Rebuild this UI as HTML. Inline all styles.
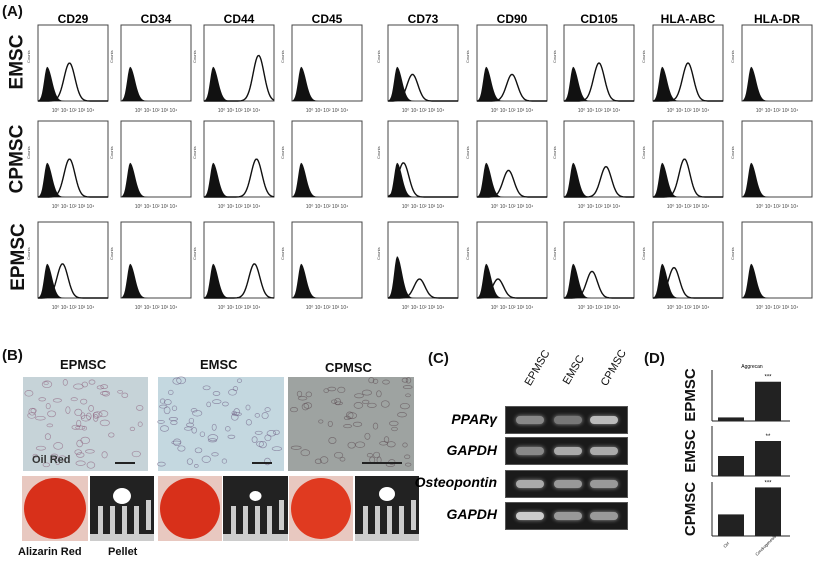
<!DOCTYPE html>
<html><head><meta charset="utf-8">
<style>
body{margin:0;background:#fff;}
#c{position:relative;width:819px;height:561px;overflow:hidden;font-family:"Liberation Sans",sans-serif;}
.t{position:absolute;font-weight:bold;color:#111;white-space:nowrap;}
.r{position:absolute;font-weight:bold;font-size:19px;transform:rotate(-90deg);transform-origin:center;white-space:nowrap;color:#111;}
.rd{position:absolute;font-weight:bold;font-size:15px;width:80px;height:18px;line-height:18px;text-align:center;transform:rotate(-90deg);white-space:nowrap;color:#111;}
.gel{position:absolute;left:505px;width:121px;height:26px;background:#1a1a1a;border:1px solid #555;}
.band{position:absolute;top:9px;height:8px;width:28px;border-radius:4px;background:#aaa;box-shadow:0 0 4px #999;}
.gl{position:absolute;right:322px;font-weight:bold;font-style:italic;font-size:14px;}
</style></head><body>
<div id="c">
<div style="position:absolute;left:23px;top:377px;width:125px;height:94px;background:#c6d3d8"></div>
<div style="position:absolute;left:158px;top:377px;width:126px;height:94px;background:#c4d8e0"></div>
<div style="position:absolute;left:288px;top:377px;width:126px;height:94px;background:#9ea3a1"></div>
<svg id="s" width="819" height="561" style="position:absolute;left:0;top:0"></svg>
<div class="t" style="left:2px;top:3px;font-size:15px">(A)</div>
<div class="t" style="left:2px;top:347px;font-size:15px">(B)</div>
<div class="t" style="left:428px;top:350px;font-size:15px">(C)</div>
<div class="t" style="left:644px;top:350px;font-size:15px">(D)</div>

<div class="r" style="left:-10px;top:51px">EMSC</div>
<div class="r" style="left:-17px;top:148px">CPMSC</div>
<div class="r" style="left:-15px;top:246px">EPMSC</div>

<div class="t" style="left:60px;top:357px;font-size:13px">EPMSC</div>
<div class="t" style="left:200px;top:357px;font-size:13px">EMSC</div>
<div class="t" style="left:325px;top:360px;font-size:13px">CPMSC</div>
<div class="t" style="left:32px;top:454px;font-size:11px;color:#333">Oil Red</div>
<div style="position:absolute;left:115px;top:462px;width:20px;height:2px;background:#222"></div>
<div style="position:absolute;left:252px;top:462px;width:20px;height:2px;background:#222"></div>
<div style="position:absolute;left:362px;top:462px;width:40px;height:2px;background:#222"></div>
<div style="position:absolute;left:22px;top:476px;width:66px;height:65px;background:#e8c8c0"><div style="margin:2px;width:62px;height:61px;border-radius:50%;background:#d8301a"></div></div>
<div style="position:absolute;left:158px;top:476px;width:64px;height:65px;background:#e8c8c0"><div style="margin:2px;width:60px;height:61px;border-radius:50%;background:#d8301a"></div></div>
<div style="position:absolute;left:289px;top:476px;width:64px;height:65px;background:#e8c8c0"><div style="margin:2px;width:60px;height:61px;border-radius:50%;background:#e03a20"></div></div>
<div class="t" style="left:18px;top:546px;font-size:11px">Alizarin Red</div>
<div class="t" style="left:108px;top:546px;font-size:11px">Pellet</div>

<div class="t" style="left:518px;top:362px;font-size:11px;transform:rotate(-60deg);font-weight:normal">EPMSC</div>
<div class="t" style="left:558px;top:364px;font-size:11px;transform:rotate(-60deg);font-weight:normal">EMSC</div>
<div class="t" style="left:594px;top:362px;font-size:11px;transform:rotate(-60deg);font-weight:normal">CPMSC</div>
<div class="gl" style="top:411px">PPARγ</div>
<div class="gl" style="top:442px">GAPDH</div>
<div class="gl" style="top:474px">Osteopontin</div>
<div class="gl" style="top:506px">GAPDH</div>
<div class="gel" style="top:406px"><div class="band" style="left:10px;background:#888"></div><div class="band" style="left:48px;background:#777"></div><div class="band" style="left:84px;background:#bbb"></div></div>
<div class="gel" style="top:437px"><div class="band" style="left:10px;background:#888"></div><div class="band" style="left:48px;background:#aaa"></div><div class="band" style="left:84px;background:#aaa"></div></div>
<div class="gel" style="top:470px"><div class="band" style="left:10px"></div><div class="band" style="left:48px;background:#999"></div><div class="band" style="left:84px;background:#999"></div></div>
<div class="gel" style="top:502px"><div class="band" style="left:10px;background:#ccc"></div><div class="band" style="left:48px;background:#999"></div><div class="band" style="left:84px;background:#999"></div></div>

<div class="rd" style="left:651px;top:386px">EPMSC</div>
<div class="rd" style="left:651px;top:442px">EMSC</div>
<div class="rd" style="left:651px;top:500px">CPMSC</div>
</div>
<script>
var s=document.getElementById('s'),h='';
var names=['CD29','CD34','CD44','CD45','CD73','CD90','CD105','HLA-ABC','HLA-DR'];
var L=[38,121,204,292,388,477,564,653,742];
var T=[25,121,222];
var O=[[[.45,.5],0,[.78,.6],0,[.35,.35],[.5,.35],[.5,.5],[.5,.5],0],
[[.45,.5],0,[.75,.5],0,[.22,.45],[.45,.35],[.6,.4],[.45,.5],0],
[[.35,.45],0,[.72,.45],0,[.45,.25],[.3,.25],[.4,.35],[.3,.4],0]];
// microscopy texture
var seed=7;function rnd(){seed=(seed*9301+49297)%233280;return seed/233280;}
[[23,148,'#8a5a78'],[158,284,'#6a5a80'],[288,414,'#5a4a50']].forEach(function(a){
 for(var k=0;k<60;k++){var x=a[0]+rnd()*(a[1]-a[0]-6)+3,y=380+rnd()*86;h+='<ellipse cx="'+x.toFixed(1)+'" cy="'+y.toFixed(1)+'" rx="'+(2+rnd()*3).toFixed(1)+'" ry="'+(1.5+rnd()*2).toFixed(1)+'" fill="none" stroke="'+a[2]+'" stroke-width="0.7" opacity="0.6"/>';}
});
for(var i=0;i<9;i++){
 h+='<text x="'+(L[i]+35)+'" y="23" text-anchor="middle" font-size="12" font-weight="bold" font-family="Liberation Sans">'+names[i]+'</text>';
 for(var r=0;r<3;r++){
  var x=L[i],y=T[r],w=70,ht=76,b=y+ht;
  h+='<rect x="'+x+'" y="'+y+'" width="'+w+'" height="'+ht+'" fill="none" stroke="#444" stroke-width="1"/>';
  h+='<text x="'+(x+w/2)+'" y="'+(b+11)+'" text-anchor="middle" font-size="5" fill="#444">10⁰  10¹  10²  10³  10⁴</text>';
  h+='<text x="'+(x-8)+'" y="'+(y+ht/2)+'" font-size="4" fill="#444" transform="rotate(-90 '+(x-8)+' '+(y+ht/2)+')">Counts</text>';
  var fh=(r==2&&i==4)?.55:.45,p='M'+x+' '+b;
  for(var k=0;k<=w;k+=1){var u=k/w-.13;var v=Math.exp(-Math.pow(u/(u<0?.06:.1),2));p+=' L'+(x+k)+' '+(b-v*fh*ht).toFixed(1);}
  h+='<path d="'+p+' Z" fill="#111"/>';
  var o=O[r][i];
  if(o){var q='';for(var k=0;k<=w;k++){var v=Math.exp(-Math.pow((k/w-o[0])/.11,2));q+=(k?' L':'M')+(x+k)+' '+(b-v*o[1]*ht).toFixed(1);}h+='<path d="'+q+'" fill="none" stroke="#111" stroke-width="1.4"/>';}
 }
}
[[90,154],[223,288],[355,419]].forEach(function(a,j){
 var x=a[0],w=a[1]-a[0];
 h+='<rect x="'+x+'" y="476" width="'+w+'" height="65" fill="#222"/><rect x="'+x+'" y="534" width="'+w+'" height="7" fill="#ccc"/>';
 for(var k=0;k<5;k++)h+='<rect x="'+(x+8+k*12)+'" y="'+(k==4?500:506)+'" width="5" height="30" fill="#ccc"/>';
 var rr=[9,6,8][j];h+='<ellipse cx="'+(x+w/2)+'" cy="'+(496-(j==2?2:0))+'" rx="'+rr+'" ry="'+(rr-1)+'" fill="#fff"/>';
});
var D=[[370,421],[426,476],[482,536]];
D.forEach(function(d,j){
 var x0=712,x1=790,y0=d[0],y1=d[1],H=y1-y0;
 h+='<line x1="'+x0+'" y1="'+y0+'" x2="'+x0+'" y2="'+y1+'" stroke="#222"/><line x1="'+x0+'" y1="'+y1+'" x2="'+x1+'" y2="'+y1+'" stroke="#222"/>';
 var hs=j==0?[.07,.77]:j==1?[.4,.7]:[.4,.9];
 h+='<rect x="'+(x0+6)+'" y="'+(y1-hs[0]*H)+'" width="26" height="'+(hs[0]*H)+'" fill="#222"/>';
 h+='<rect x="'+(x0+43)+'" y="'+(y1-hs[1]*H)+'" width="26" height="'+(hs[1]*H)+'" fill="#222"/>';
 h+='<text x="'+(x0+56)+'" y="'+(y1-hs[1]*H-3)+'" text-anchor="middle" font-size="6">'+(j==1?'**':'***')+'</text>';
});
h+='<text x="752" y="368" text-anchor="middle" font-size="5">Aggrecan</text>';
h+='<text x="725" y="548" font-size="4" transform="rotate(-45 725 548)">Ctrl</text><text x="757" y="556" font-size="4" transform="rotate(-45 757 556)">Condrogenesis</text>';
s.innerHTML=h;
</script>
</body></html>
